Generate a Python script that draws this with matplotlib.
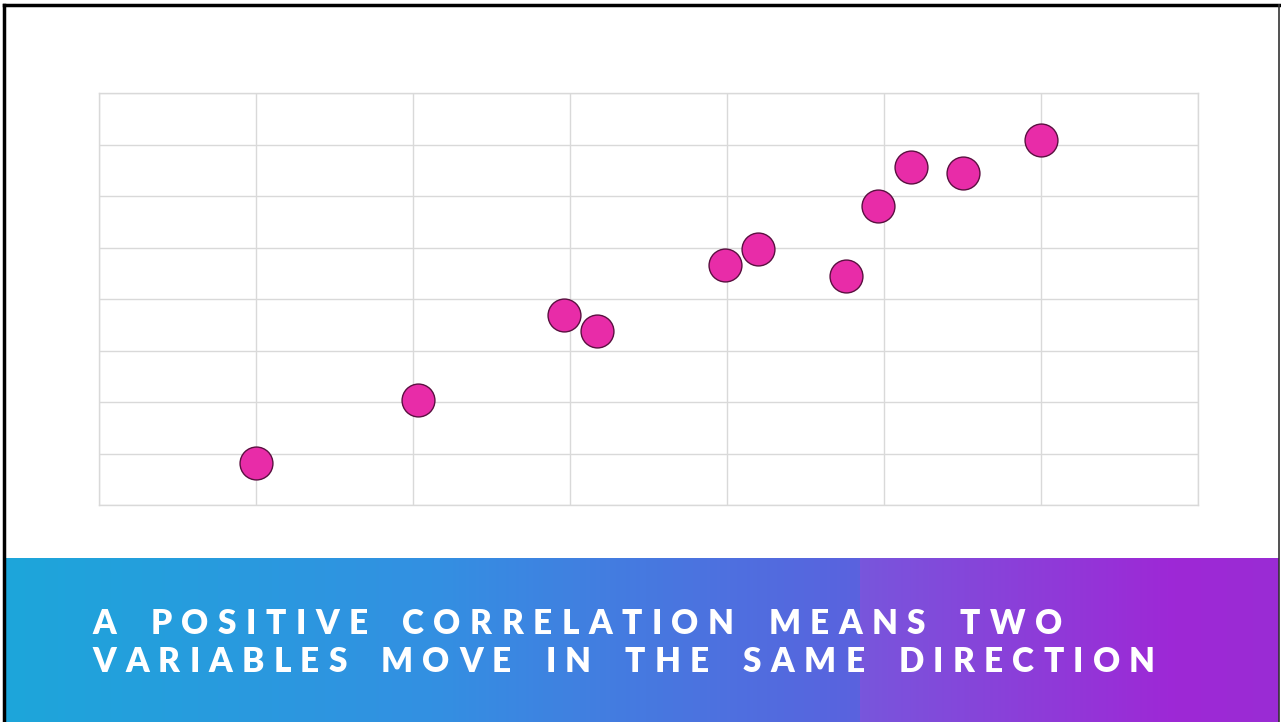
import numpy as np
import matplotlib
matplotlib.use("Agg")
import matplotlib.pyplot as plt
from matplotlib.colors import LinearSegmentedColormap
from matplotlib.lines import Line2D

# Data
x_vals = [1.0, 2.03, 2.96, 3.17, 3.99, 4.20, 4.76, 4.96, 5.17, 5.50, 6.0]
y_vals = [0.82, 2.04, 3.69, 3.38, 4.66, 4.97, 4.45, 5.81, 6.56, 6.45, 7.09]
title_lines = ["A POSITIVE CORRELATION MEANS TWO",
               "VARIABLES MOVE IN THE SAME DIRECTION"]

W, H = 1281, 722
fig = plt.figure(figsize=(W/100, H/100), dpi=100)
fig.patch.set_facecolor("white")

# Scatter axes
ax = fig.add_axes([99/W, 1-505/H, 1099/W, 412/H])
ax.scatter(x_vals, y_vals, s=560, color="#E82CA8", edgecolor="#5A1040",
           linewidth=1.0, zorder=3)
ax.set_xlim(0, 7)
ax.set_ylim(0, 8)
ax.set_xticks(np.arange(0, 8, 1))
ax.set_yticks(np.arange(0, 9, 1))
ax.grid(True, color="#D9D9D9", linewidth=1.0)
ax.tick_params(length=0, labelbottom=False, labelleft=False)
for sp in ax.spines.values():
    sp.set_color("#D9D9D9")
    sp.set_linewidth(1.0)
ax.set_axisbelow(True)

# Banner gradient
bax = fig.add_axes([4/W, 0, (1279-4)/W, (722-558)/H])
bax.set_axis_off()
cmap_l = LinearSegmentedColormap.from_list("l", ["#1DA6DA", "#3390E2", "#5A62DE"])
cmap_r = LinearSegmentedColormap.from_list(
    "r", [(0, "#7856DC"), (0.75, "#9E28D6"), (1, "#9A2CD4")])
ncol = 1275
split = 860 - 4
xs = np.arange(ncol)
tl = np.clip(xs / split, 0, 1)
tr = np.clip((xs - split) / (ncol - split), 0, 1)
cl = cmap_l(tl)[:, :3]
cr = cmap_r(tr)[:, :3]
row = np.where((xs < split)[:, None], cl, cr)
grad = np.repeat(row[None, :, :], 50, axis=0)
bax.imshow(grad, aspect="auto", extent=[0, 1, 0, 1])
bax.set_xlim(0, 1)
bax.set_ylim(0, 1)

# Letter-spaced title text
fig.canvas.draw()
renderer = fig.canvas.get_renderer()
fontsize = 24
fkw = dict(fontsize=fontsize, fontweight="heavy", family="Lato")
baselines = [722-634, 722-672]
ends = [1062, 1155]
x0 = 92

def char_w(ch):
    t = fig.text(0, 0, ch, **fkw)
    w = t.get_window_extent(renderer).width
    t.remove()
    return w

space_w = char_w("N") * 0.6
for line, yb, xend in zip(title_lines, baselines, ends):
    widths = [space_w if c == " " else char_w(c) for c in line]
    gaps = len(line) - 1
    spacing = (xend - x0 - sum(widths)) / gaps
    xpos = x0
    for ch, w in zip(line, widths):
        if ch != " ":
            fig.text(xpos/W, yb/H, ch, color="white", ha="left",
                     va="baseline", **fkw)
        xpos += w + spacing

# Slide border
fig.add_artist(Line2D([4/W, 1279/W], [1-5/H, 1-5/H], color="black", lw=2.5,
                      transform=fig.transFigure))
fig.add_artist(Line2D([4/W, 4/W], [0, 1-5/H], color="black", lw=2.5,
                      transform=fig.transFigure))
fig.add_artist(Line2D([1279/W, 1279/W], [0, 1-5/H], color="#333333", lw=1.2,
                      transform=fig.transFigure))

fig.savefig("out.png", dpi=100)
